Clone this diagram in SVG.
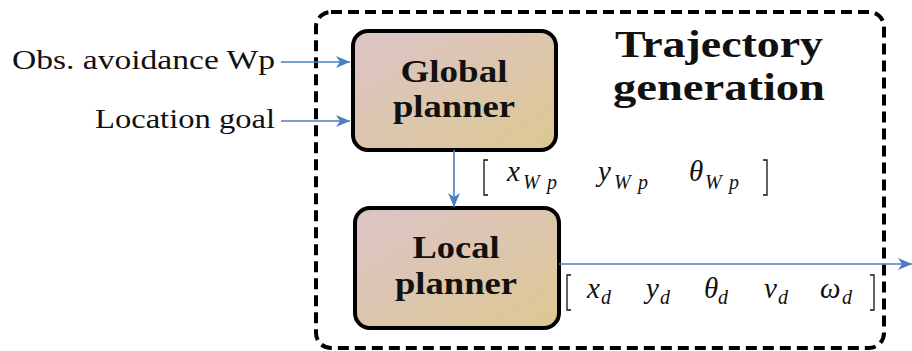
<svg xmlns="http://www.w3.org/2000/svg" width="912" height="351" viewBox="0 0 912 351">
<defs>
<linearGradient id="g" x1="0" y1="0" x2="1" y2="1">
<stop offset="0" stop-color="#dcc4c8"/>
<stop offset="1" stop-color="#dcc892"/>
</linearGradient>
<marker id="ah" markerWidth="14" markerHeight="12" refX="14" refY="6" orient="auto" markerUnits="userSpaceOnUse">
<path d="M0,0 L14,6 L0,12 L4,6 Z" fill="#4a7fc0"/>
</marker>
<style>
.node{fill:url(#g);stroke:#000;stroke-width:4}
.nt{font-family:'Liberation Serif','Times New Roman',Times,serif;font-weight:bold;font-size:32px;text-anchor:middle;fill:#111}
.lbl{font-family:'Liberation Serif','Times New Roman',Times,serif;font-size:27px;text-anchor:end;fill:#111}
.m{font-family:'Liberation Serif','Times New Roman',Times,serif;font-style:italic;font-size:29px;fill:#111}
.s{font-family:'Liberation Serif','Times New Roman',Times,serif;font-style:italic;font-size:20px;fill:#111}
.br{fill:none;stroke:#111;stroke-width:1.3}
.c{stroke:#4a7fc0;stroke-width:1.6;fill:none;marker-end:url(#ah)}
</style>
</defs>
<rect width="912" height="351" fill="#fff"/>
<g id="frame">
<rect x="316" y="12" width="568" height="336" rx="15" fill="none" stroke="#000" stroke-width="4" stroke-dasharray="11 6"/>
<text class="nt" x="719" y="57" style="font-size:37px" textLength="208" lengthAdjust="spacingAndGlyphs">Trajectory</text>
<text class="nt" x="719" y="100" style="font-size:37px" textLength="212" lengthAdjust="spacingAndGlyphs">generation</text>
</g>
<g id="global-planner">
<rect class="node" x="353" y="31" width="203" height="119" rx="15"/>
<text class="nt" x="454" y="82" textLength="107" lengthAdjust="spacingAndGlyphs">Global</text>
<text class="nt" x="454" y="117" textLength="122" lengthAdjust="spacingAndGlyphs">planner</text>
</g>
<g id="local-planner">
<rect class="node" x="355" y="208" width="204" height="120" rx="15"/>
<text class="nt" x="456" y="258" textLength="87" lengthAdjust="spacingAndGlyphs">Local</text>
<text class="nt" x="456" y="294" textLength="122" lengthAdjust="spacingAndGlyphs">planner</text>
</g>
<g id="inputs">
<text class="lbl" x="275" y="69" textLength="263" lengthAdjust="spacingAndGlyphs">Obs. avoidance Wp</text>
<text class="lbl" x="275" y="128" textLength="180" lengthAdjust="spacingAndGlyphs">Location goal</text>
</g>
<g id="connectors">
<line class="c" x1="281" y1="62" x2="350" y2="62"/>
<line class="c" x1="281" y1="121" x2="350" y2="121"/>
<line class="c" x1="454" y1="150" x2="454" y2="207"/>
<line class="c" x1="559" y1="264" x2="912" y2="264"/>
</g>
<g id="waypoint-vector">
<path class="br" d="M488,160 L484,160 L484,195 L488,195"/>
<text class="m" x="507" y="181">x</text><text class="s" x="523" y="189" textLength="34" lengthAdjust="spacing">Wp</text>
<text class="m" x="598" y="181">y</text><text class="s" x="614" y="189" textLength="34" lengthAdjust="spacing">Wp</text>
<text class="m" x="689" y="181">θ</text><text class="s" x="705" y="189" textLength="34" lengthAdjust="spacing">Wp</text>
<path class="br" d="M763,160 L767,160 L767,195 L763,195"/>
</g>
<g id="desired-vector">
<path class="br" d="M571,275 L567,275 L567,310 L571,310"/>
<text class="m" x="587" y="298">x</text><text class="s" x="601" y="304">d</text>
<text class="m" x="646" y="298">y</text><text class="s" x="660" y="304">d</text>
<text class="m" x="704" y="298">θ</text><text class="s" x="718" y="304">d</text>
<text class="m" x="764" y="298">v</text><text class="s" x="778" y="304">d</text>
<text class="m" x="820" y="298">ω</text><text class="s" x="842" y="304">d</text>
<path class="br" d="M870,275 L874,275 L874,310 L870,310"/>
</g>
</svg>
